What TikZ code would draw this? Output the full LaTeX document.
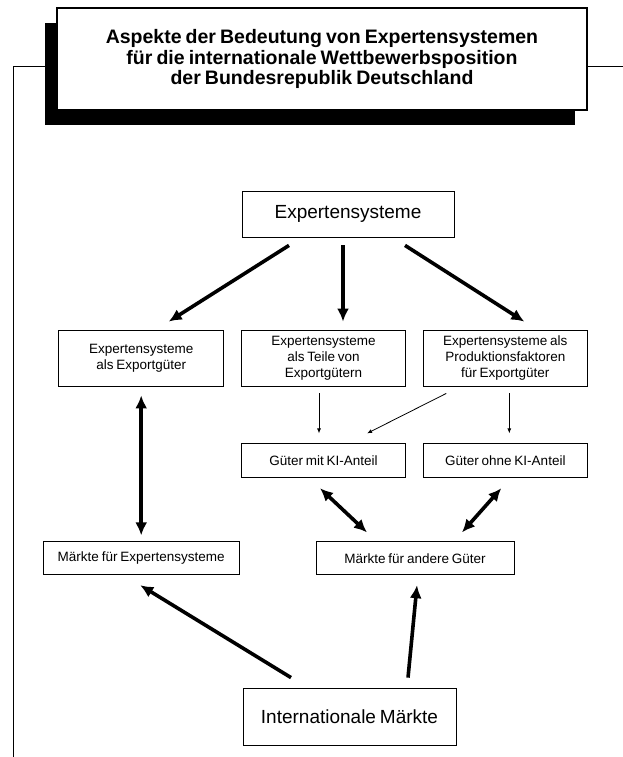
\documentclass[tikz,border=0pt]{standalone}
\usepackage{fontspec}
\setmainfont{Liberation Sans}[WordSpace=0.75]
\usetikzlibrary{positioning,shadows,arrows.meta}

\begin{document}
\begin{tikzpicture}[
    x=1pt, y=-1pt,
    node distance=57pt and 17pt,
    box/.style={rectangle, draw, line width=0.8pt, minimum width=164pt, minimum height=56pt, align=center, font=\fontsize{13.5}{16}\selectfont},
    flatbox/.style={box, minimum height=33pt},
    bigbox/.style={box, minimum width=212pt, minimum height=46pt, font=\fontsize{19}{22}\selectfont},
    heading/.style={rectangle, draw, line width=1.5pt, fill=white, minimum width=530pt, minimum height=102pt, align=center, font=\fontsize{19.5}{20.5}\selectfont\bfseries, drop shadow={shadow xshift=-12pt, shadow yshift=-15pt, fill=black, opacity=1}},
    fatarrow/.style={line width=3.6pt, -{Latex[length=13pt,width=12pt]}},
    fatboth/.style={line width=3.6pt, {Latex[length=13pt,width=12pt]}-{Latex[length=13pt,width=12pt]}},
    thinarrow/.style={line width=0.8pt, -{Latex[length=5pt,width=4pt]}},
    rule/.style={line width=0.8pt},
]
\useasboundingbox (0,0) rectangle (623,757);

% Title with shadow
\node[heading] (title) at (322,59) {Aspekte der Bedeutung von Expertensystemen\\für die internationale Wettbewerbsposition\\der Bundesrepublik Deutschland};

% Page rule
\coordinate (mtop) at (13,66);
\coordinate (mbot) at (13,757);
\coordinate (mright) at (623,66);
\draw[rule] (mbot) -- (mtop) -- ([yshift=-7pt]title.west);
\draw[rule] ([yshift=-7pt]title.east) -- (mright);

% Top
\node[bigbox] (expert) at (348,214) {Expertensysteme};

% Second row
\node[box] (exteil) at (323.5,358) {Expertensysteme\\als Teile von\\Exportgütern};
\node[box, left=of exteil, minimum width=165pt] (exgood) {Expertensysteme\\als Exportgüter};
\node[box, right=of exteil] (exprod) {Expertensysteme als\\Produktionsfaktoren\\für Exportgüter};

% Third row
\node[flatbox, below=of exteil, minimum height=34pt] (mitki) {Güter mit KI-Anteil};
\node[flatbox, below=of exprod, minimum height=34pt] (ohneki) {Güter ohne KI-Anteil};

% Markets
\node[flatbox, below=155pt of exgood, minimum width=196pt] (mexp) {Märkte für Expertensysteme};
\node[flatbox, right=76pt of mexp, minimum width=198pt] (mand) {Märkte für andere Güter};
\node[bigbox, minimum width=213pt, minimum height=57pt] (intl) at (349.5,716.5) {Internationale Märkte};

% Arrows
\draw[fatarrow] ([xshift=-59pt,yshift=-8pt]expert.south) -- ([xshift=27.5pt,yshift=8pt]exgood.north);
\draw[fatarrow] ([xshift=-5pt,yshift=-8pt]expert.south) -- ([xshift=19.5pt,yshift=8pt]exteil.north);
\draw[fatarrow] ([xshift=57pt,yshift=-8pt]expert.south) -- ([xshift=19pt,yshift=8pt]exprod.north);

\draw[thinarrow] ([xshift=-4.5pt,yshift=-7pt]exteil.south) -- ([xshift=-4.5pt,yshift=10pt]mitki.north);
\draw[thinarrow] ([xshift=-59pt,yshift=-7pt]exprod.south) -- ([xshift=43.5pt,yshift=10pt]mitki.north);
\draw[thinarrow] ([xshift=4pt,yshift=-7pt]exprod.south) -- ([xshift=4pt,yshift=10pt]ohneki.north);

\draw[fatboth] ([yshift=-9pt]exgood.south) -- ([yshift=6pt]mexp.north);
\draw[fatboth] ([xshift=-3.5pt,yshift=-10pt]mitki.south) -- ([xshift=-48pt,yshift=9pt]mand.north);
\draw[fatboth] ([xshift=-4pt,yshift=-10pt]ohneki.south) -- ([xshift=47pt,yshift=9pt]mand.north);

\draw[fatarrow] ([xshift=-58.5pt,yshift=10pt]intl.north) -- ([xshift=-1pt,yshift=-10pt]mexp.south);
\draw[fatarrow] ([xshift=58.5pt,yshift=10pt]intl.north) -- ([xshift=2pt,yshift=-10pt]mand.south);

\end{tikzpicture}
\end{document}
